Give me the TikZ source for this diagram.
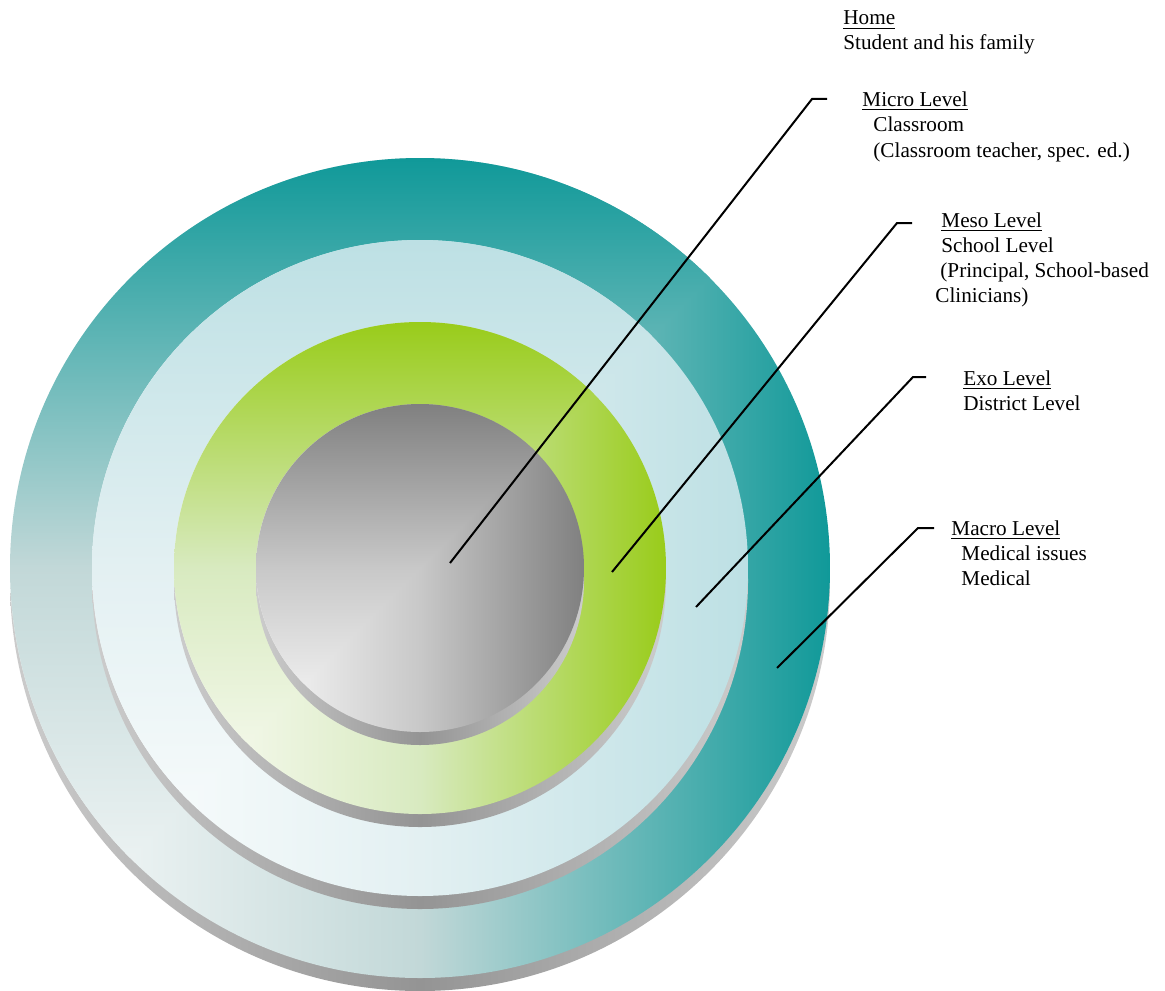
\documentclass[tikz,border=0pt]{standalone}
\usepackage{fontspec}
\setmainfont{Liberation Serif}

\definecolor{topmacro}{HTML}{109999}
\definecolor{midmacro}{HTML}{C2D8D8}
\definecolor{botmacro}{HTML}{FBFCFC}
\definecolor{topexo}{HTML}{BDE0E4}
\definecolor{midexo}{HTML}{E3F0F2}
\definecolor{botexo}{HTML}{FCFEFE}
\definecolor{topmeso}{HTML}{99CC1A}
\definecolor{midmeso}{HTML}{D8EAC0}
\definecolor{botmeso}{HTML}{FBFCF6}
\definecolor{topmicro}{HTML}{808080}
\definecolor{midmicro}{HTML}{C8C8C8}
\definecolor{botmicro}{HTML}{FAFAFA}

\tikzset{
  lvltext/.style={anchor=base west, inner sep=0pt, font=\fontsize{10.6}{12.5}\selectfont},
  pointer/.style={line width=1pt, line join=miter},
}

\begin{document}
\begin{tikzpicture}[x=0.5pt,y=-0.5pt]
\useasboundingbox (0,0) rectangle (1165,990);

% discs with shadows
\foreach \r/\c in {410/macro,328/exo,246/meso,164/micro}{
  \shade[left color=black!20, right color=black!20, middle color=black!42] (420,581) circle (\r);
  \begin{scope}
    \clip (420,568) circle (\r);
    \shade[left color=bot\c, right color=top\c, middle color=mid\c] (420-\r,568-\r) rectangle (420+\r,568+\r);
    \shade[top color=top\c, bottom color=bot\c, middle color=mid\c] (420-\r,568-\r) -- (420+\r,568-\r) -- (420-\r,568+\r) -- cycle;
  \end{scope}
}

% texts
\node[lvltext] (home) at (843,25) {\underline{Home}};
\node[lvltext] (home2) at (843,50) {Student and his family};
\node[lvltext] (micro) at (862,106) {\underline{Micro Level}};
\node[lvltext] (micro2) at (873,131) {Classroom};
\node[lvltext] (micro3) at (873,157) {(Classroom teacher, spec. ed.)};
\node[lvltext] (meso) at (941,227) {\underline{Meso Level}};
\node[lvltext] (meso2) at (941,252) {School Level};
\node[lvltext] (meso3) at (940,277) {(Principal, School-based};
\node[lvltext] (meso4) at (935,302) {Clinicians)};
\node[lvltext] (exo) at (963,385) {\underline{Exo Level}};
\node[lvltext] (exo2) at (963,410) {District Level};
\node[lvltext] (macro) at (951,535) {\underline{Macro Level}};
\node[lvltext] (macro2) at (961,560) {Medical issues};
\node[lvltext] (macro3) at (961,585) {Medical};

% pointers
\coordinate (microin) at (450,563);
\coordinate (microbend) at (812,99);
\coordinate (microtip) at (827,99);
\coordinate (mesoin) at (612,572);
\coordinate (mesobend) at (897,223);
\coordinate (mesotip) at (912,223);
\coordinate (exoin) at (696,607);
\coordinate (exobend) at (913,377);
\coordinate (exotip) at (926,377);
\coordinate (macroin) at (777,668);
\coordinate (macrobend) at (918,528);
\coordinate (macrotip) at (934,528);

\draw[pointer] (microin) -- (microbend) -- (microtip);
\draw[pointer] (mesoin) -- (mesobend) -- (mesotip);
\draw[pointer] (exoin) -- (exobend) -- (exotip);
\draw[pointer] (macroin) -- (macrobend) -- (macrotip);
\end{tikzpicture}
\end{document}
